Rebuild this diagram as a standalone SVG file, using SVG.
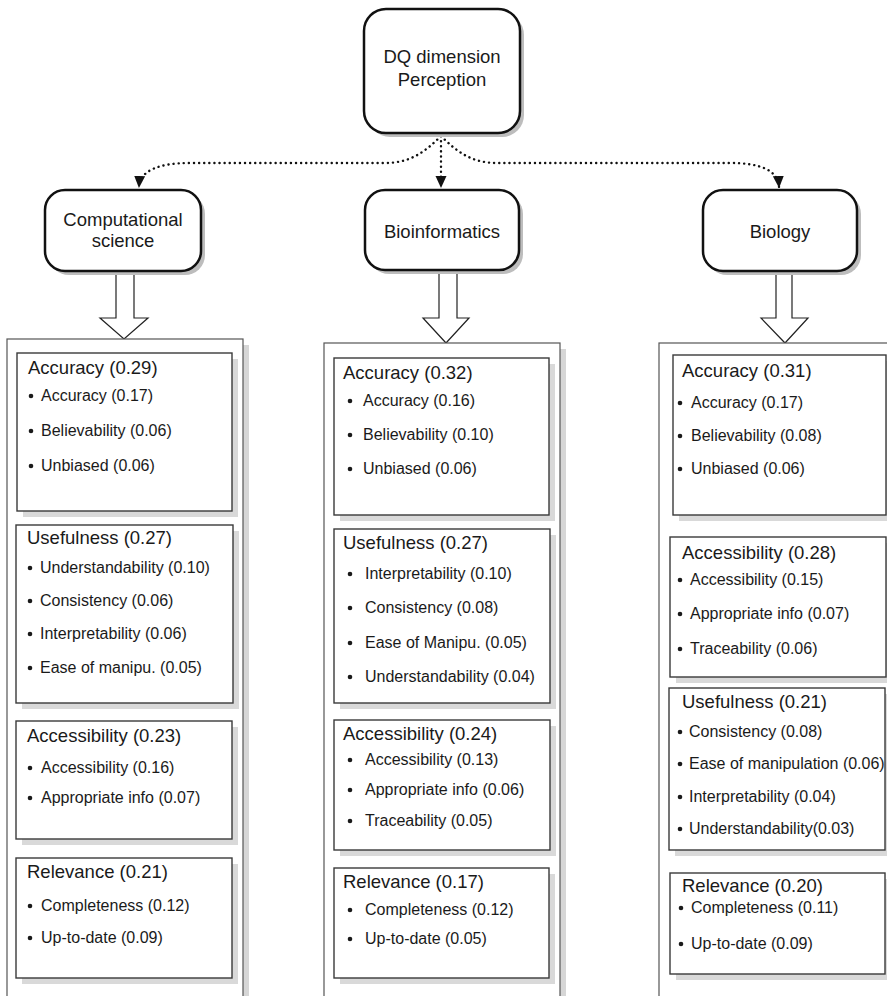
<svg xmlns="http://www.w3.org/2000/svg" width="887" height="996" viewBox="0 0 887 996">
<style>
text{font-family:"Liberation Sans",Arial,sans-serif;fill:#1a1a1a}
.lbl{font-size:18.5px;text-anchor:middle}
.hd{font-size:18.5px}
.it{font-size:16px}
.node{fill:#fff;stroke:#111;stroke-width:2.5}
.nsh{fill:#bdbdbd}
.outer{fill:#fff;stroke:#555;stroke-width:1.2}
.osh{fill:#d6d6d6}
.box{fill:#fff;stroke:#3a3a3a;stroke-width:1.4}
.bsh{fill:#d9d9d9}
.blk{fill:#fff;stroke:#222;stroke-width:1.2}
.dot{fill:none;stroke:#111;stroke-width:2.4;stroke-dasharray:0.1 5;stroke-linecap:round}
.b{fill:#1a1a1a}
</style>
<defs>
<marker id="ah" viewBox="0 0 12 12" refX="11" refY="6" markerWidth="12" markerHeight="12" markerUnits="userSpaceOnUse" orient="auto">
<path d="M0,0.5 L12,6 L0,11.5 Z" fill="#111"/>
</marker>
</defs>

<g id="connectors">
<path class="dot" d="M441,136 C425,152 410,163 385,163 L190,163 C160,163 140,170 139,187" marker-end="url(#ah)"/>
<path class="dot" d="M441,136 L441,187" marker-end="url(#ah)"/>
<path class="dot" d="M441,136 C457,152 472,163 497,163 L730,163 C760,163 778,170 779,187" marker-end="url(#ah)"/>
<polyline class="blk" points="116,270 116,318 100,318 124,339 148,318 134,318 134,270"/>
<polyline class="blk" points="439,268 439,318 423,318 446,343 469,318 457,318 457,268"/>
<polyline class="blk" points="776,270 776,318 761,318 785,343 808,318 792,318 792,270"/>
</g>

<g id="node-dq">
<rect class="nsh" x="368" y="13" width="156" height="124" rx="22"/>
<rect class="node" x="364" y="9" width="156" height="124" rx="22"/>
<text class="lbl" x="442" y="63">DQ dimension</text>
<text class="lbl" x="442" y="86">Perception</text>
</g>

<g id="node-computational">
<rect class="nsh" x="49" y="194" width="156" height="81" rx="20"/>
<rect class="node" x="45" y="190" width="156" height="81" rx="20"/>
<text class="lbl" x="123" y="226">Computational</text>
<text class="lbl" x="123" y="247">science</text>
</g>

<g id="node-bioinformatics">
<rect class="nsh" x="369" y="194" width="154" height="80" rx="20"/>
<rect class="node" x="365" y="190" width="154" height="80" rx="20"/>
<text class="lbl" x="442" y="238">Bioinformatics</text>
</g>

<g id="node-biology">
<rect class="nsh" x="707" y="194" width="154" height="81" rx="20"/>
<rect class="node" x="703" y="190" width="154" height="81" rx="20"/>
<text class="lbl" x="780" y="238">Biology</text>
</g>

<g id="col-computational">
<rect class="osh" x="243" y="345" width="6" height="660"/>
<rect class="outer" x="7" y="339" width="236" height="670"/>

<rect class="bsh" x="23" y="359" width="215" height="158"/>
<rect class="box" x="17" y="353" width="215" height="158"/>
<text class="hd" x="28" y="374">Accuracy (0.29)</text>
<circle class="b" cx="31" cy="396" r="2.3"/><text class="it" x="41" y="401">Accuracy (0.17)</text>
<circle class="b" cx="31" cy="431" r="2.3"/><text class="it" x="41" y="436">Believability (0.06)</text>
<circle class="b" cx="31" cy="466" r="2.3"/><text class="it" x="41" y="471">Unbiased (0.06)</text>

<rect class="bsh" x="22" y="531" width="217" height="178"/>
<rect class="box" x="16" y="525" width="217" height="178"/>
<text class="hd" x="27" y="544">Usefulness (0.27)</text>
<circle class="b" cx="30" cy="568" r="2.3"/><text class="it" x="40" y="573">Understandability (0.10)</text>
<circle class="b" cx="30" cy="601" r="2.3"/><text class="it" x="40" y="606">Consistency (0.06)</text>
<circle class="b" cx="30" cy="634" r="2.3"/><text class="it" x="40" y="639">Interpretability (0.06)</text>
<circle class="b" cx="30" cy="668" r="2.3"/><text class="it" x="40" y="673">Ease of manipu. (0.05)</text>

<rect class="bsh" x="22" y="727" width="216" height="118"/>
<rect class="box" x="16" y="721" width="216" height="118"/>
<text class="hd" x="27" y="742">Accessibility (0.23)</text>
<circle class="b" cx="30" cy="768" r="2.3"/><text class="it" x="41" y="773">Accessibility (0.16)</text>
<circle class="b" cx="30" cy="798" r="2.3"/><text class="it" x="41" y="803">Appropriate info (0.07)</text>

<rect class="bsh" x="22" y="864" width="216" height="120"/>
<rect class="box" x="16" y="858" width="216" height="120"/>
<text class="hd" x="27" y="878">Relevance (0.21)</text>
<circle class="b" cx="30" cy="906" r="2.3"/><text class="it" x="41" y="911">Completeness (0.12)</text>
<circle class="b" cx="30" cy="938" r="2.3"/><text class="it" x="41" y="943">Up-to-date (0.09)</text>
</g>

<g id="col-bioinformatics">
<rect class="osh" x="560" y="349" width="6" height="660"/>
<rect class="outer" x="324" y="343" width="236" height="670"/>

<rect class="bsh" x="340" y="364" width="215" height="157"/>
<rect class="box" x="334" y="358" width="215" height="157"/>
<text class="hd" x="343" y="379">Accuracy (0.32)</text>
<circle class="b" cx="350" cy="401" r="2.3"/><text class="it" x="363" y="406">Accuracy (0.16)</text>
<circle class="b" cx="350" cy="435" r="2.3"/><text class="it" x="363" y="440">Believability (0.10)</text>
<circle class="b" cx="350" cy="469" r="2.3"/><text class="it" x="363" y="474">Unbiased (0.06)</text>

<rect class="bsh" x="340" y="535" width="216" height="174"/>
<rect class="box" x="334" y="529" width="216" height="174"/>
<text class="hd" x="343" y="549">Usefulness (0.27)</text>
<circle class="b" cx="350" cy="574" r="2.3"/><text class="it" x="365" y="579">Interpretability (0.10)</text>
<circle class="b" cx="350" cy="608" r="2.3"/><text class="it" x="365" y="613">Consistency (0.08)</text>
<circle class="b" cx="350" cy="643" r="2.3"/><text class="it" x="365" y="648">Ease of Manipu. (0.05)</text>
<circle class="b" cx="350" cy="677" r="2.3"/><text class="it" x="365" y="682">Understandability (0.04)</text>

<rect class="bsh" x="340" y="726" width="216" height="130"/>
<rect class="box" x="334" y="720" width="216" height="130"/>
<text class="hd" x="343" y="740">Accessibility (0.24)</text>
<circle class="b" cx="350" cy="760" r="2.3"/><text class="it" x="365" y="765">Accessibility (0.13)</text>
<circle class="b" cx="350" cy="790" r="2.3"/><text class="it" x="365" y="795">Appropriate info (0.06)</text>
<circle class="b" cx="350" cy="821" r="2.3"/><text class="it" x="365" y="826">Traceability (0.05)</text>

<rect class="bsh" x="340" y="874" width="215" height="110"/>
<rect class="box" x="334" y="868" width="215" height="110"/>
<text class="hd" x="343" y="888">Relevance (0.17)</text>
<circle class="b" cx="350" cy="910" r="2.3"/><text class="it" x="365" y="915">Completeness (0.12)</text>
<circle class="b" cx="350" cy="939" r="2.3"/><text class="it" x="365" y="944">Up-to-date (0.05)</text>
</g>

<g id="col-biology">
<rect class="outer" x="659" y="343" width="240" height="670"/>

<rect class="bsh" x="679" y="361" width="213" height="160"/>
<rect class="box" x="673" y="355" width="213" height="160"/>
<text class="hd" x="682" y="377">Accuracy (0.31)</text>
<circle class="b" cx="680" cy="403" r="2.3"/><text class="it" x="691" y="408">Accuracy (0.17)</text>
<circle class="b" cx="680" cy="436" r="2.3"/><text class="it" x="691" y="441">Believability (0.08)</text>
<circle class="b" cx="680" cy="469" r="2.3"/><text class="it" x="691" y="474">Unbiased (0.06)</text>

<rect class="bsh" x="676" y="543" width="216" height="140"/>
<rect class="box" x="670" y="537" width="216" height="140"/>
<text class="hd" x="682" y="559">Accessibility (0.28)</text>
<circle class="b" cx="680" cy="580" r="2.3"/><text class="it" x="690" y="585">Accessibility (0.15)</text>
<circle class="b" cx="680" cy="614" r="2.3"/><text class="it" x="690" y="619">Appropriate info (0.07)</text>
<circle class="b" cx="680" cy="649" r="2.3"/><text class="it" x="690" y="654">Traceability (0.06)</text>

<rect class="bsh" x="675" y="694" width="216" height="162"/>
<rect class="box" x="669" y="688" width="216" height="162"/>
<text class="hd" x="682" y="708">Usefulness (0.21)</text>
<circle class="b" cx="680" cy="732" r="2.3"/><text class="it" x="689" y="737">Consistency (0.08)</text>
<circle class="b" cx="680" cy="764" r="2.3"/><text class="it" x="689" y="769">Ease of manipulation (0.06)</text>
<circle class="b" cx="680" cy="797" r="2.3"/><text class="it" x="689" y="802">Interpretability (0.04)</text>
<circle class="b" cx="680" cy="829" r="2.3"/><text class="it" x="689" y="834">Understandability(0.03)</text>

<rect class="bsh" x="676" y="879" width="215" height="101"/>
<rect class="box" x="670" y="873" width="215" height="101"/>
<text class="hd" x="682" y="892">Relevance (0.20)</text>
<circle class="b" cx="681" cy="908" r="2.3"/><text class="it" x="691" y="913">Completeness (0.11)</text>
<circle class="b" cx="681" cy="944" r="2.3"/><text class="it" x="691" y="949">Up-to-date (0.09)</text>
</g>
</svg>
